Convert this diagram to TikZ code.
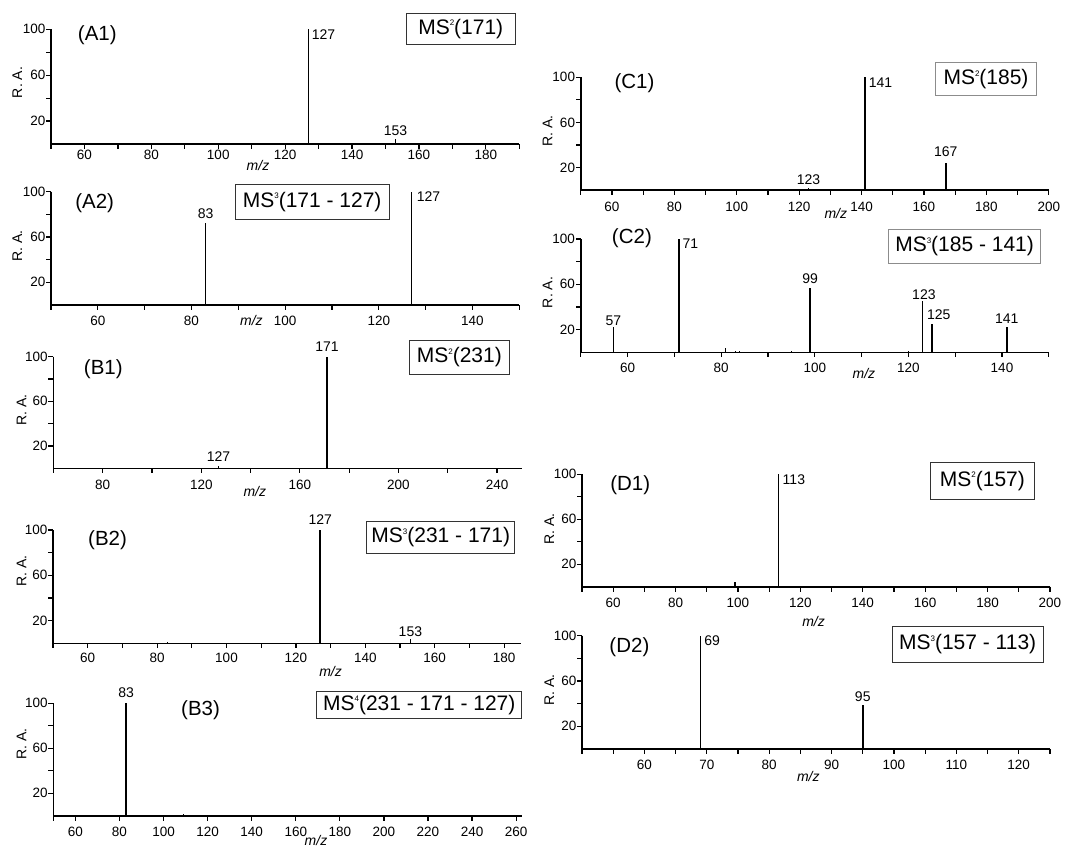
\documentclass[tikz,border=0pt]{standalone}
\usepackage{fontspec}
\setmainfont{Liberation Sans}
\newcommand\msn[2]{MS\raisebox{8.5pt}{\fontsize{8}{8}\selectfont #1}#2}
\newcommand\panelaxes[5]{%
  \draw[axisline] (#1,100) -- (#1,0) -- (#2,0);
  \foreach \t in {20,40,...,100} {\draw[tickline] (#1,\t) -- ++(-5pt,0pt);}
  \foreach \t in {20,60,100} {\node[ticklab,anchor=east,xshift=-5.5pt] at (#1,\t) {\t};}
  \foreach \t in {#3} {\draw[tickline] (\t,0) -- ++(0pt,-5pt);}
  \foreach \t in {#4} {\node[ticklab,yshift=-#5pt] at (\t,0) {\t};}
}
\newcommand\pk[2]{\draw[peak] (#1,0) -- (#1,#2);}
\newcommand\bump[2]{\draw[bumpline] (#1,0) -- (#1,#2);}
\begin{document}
\begin{tikzpicture}[x=1pt,y=-1pt,
  axisline/.style={line width=1.6pt, line join=miter},
  tickline/.style={line width=1.2pt},
  peak/.style={line width=1.8pt},
  bumpline/.style={line width=0.9pt},
  ticklab/.style={font=\fontsize{13.5}{13.5}\selectfont, inner sep=0pt},
  plab/.style={font=\fontsize{14}{14}\selectfont, inner sep=0pt},
  panlab/.style={font=\fontsize{20.5}{20.5}\selectfont, inner sep=0pt},
  mzlab/.style={font=\fontsize{14}{14}\selectfont\itshape, inner sep=0pt},
  ralab/.style={font=\fontsize{14}{14}\selectfont, inner sep=0pt, rotate=90},
  msbox/.style={draw=black!80, line width=1pt, inner sep=0pt, font=\fontsize{21}{21}\selectfont},
  msboxg/.style={msbox, draw=black!45}]
\fill[white] (0,0) rectangle (1067,848);
\useasboundingbox (0,0) rectangle (1067,848);

% ---------- A1 ----------
\begin{scope}[shift={(-116.25,144)},x={(3.345pt,0pt)},y={(0pt,1.147pt)}]
  \panelaxes{50}{190}{50,60,...,190}{60,80,...,180}{11}
  \pk{127}{100} \pk{153}{4}
  \bump{83}{1} \bump{89}{1} \bump{110}{1} \bump{171}{1}
  \node[plab,anchor=north west,xshift=3pt] (a1p127) at (127,100) {127};
  \node[plab,anchor=south,yshift=4pt] (a1p153) at (153,4) {153};
\end{scope}
\node[msbox,minimum width=109.5pt,minimum height=31pt] (a1box) at (460.75,28.8) {\msn{2}{(171)}};
\node[panlab] (a1lab) at (97.3,35) {(A1)};
\node[ralab] (a1ra) at (17.2,82.5) {R. A.};
\node[mzlab] (a1mz) at (258,165.7) {m/z};

% ---------- A2 ----------
\begin{scope}[shift={(-183.15,305)},x={(4.683pt,0pt)},y={(0pt,1.133pt)}]
  \panelaxes{50}{150}{50,60,...,150}{60,80,...,140}{15.7}
  \pk{83}{72.6} \pk{127}{100}
  \node[plab,anchor=south,yshift=4pt] (a2p83) at (83,72.6) {83};
  \node[plab,anchor=north west,xshift=5pt] (a2p127) at (127,100) {127};
\end{scope}
\node[msbox,minimum width=153.9pt,minimum height=35.3pt] (a2box) at (312.15,201.65) {\msn{3}{(171 - 127)}};
\node[panlab] (a2lab) at (94.7,203.3) {(A2)};
\node[ralab] (a2ra) at (17.2,245.8) {R. A.};
\node[mzlab] (a2mz) at (251.4,320.7) {m/z};

% ---------- B1 ----------
\begin{scope}[shift={(-94.48,468.3)},x={(2.4647pt,0pt)},y={(0pt,1.116pt)}]
  \panelaxes{60}{250}{60,80,...,240}{80,120,...,240}{16.7}
  \pk{171}{100} \pk{127}{2.5}
  \node[plab,anchor=south,yshift=5pt] (b1p171) at (171,100) {171};
  \node[plab,anchor=south,yshift=4pt] (b1p127) at (127,2.5) {127};
\end{scope}
\node[msbox,minimum width=100.6pt,minimum height=33.6pt] (b1box) at (459.3,357.5) {\msn{2}{(231)}};
\node[panlab] (b1lab) at (103.3,369.3) {(B1)};
\node[ralab] (b1ra) at (21.5,410) {R. A.};
\node[mzlab] (b1mz) at (254.8,491.7) {m/z};

% ---------- B2 ----------
\begin{scope}[shift={(-120.5,643.3)},x={(3.47pt,0pt)},y={(0pt,1.133pt)}]
  \panelaxes{50}{185}{50,60,...,180}{60,80,...,180}{14.7}
  \pk{127}{100} \pk{153}{3.5}
  \bump{83}{1}
  \node[plab,anchor=south,yshift=5pt] (b2p127) at (127,100) {127};
  \node[plab,anchor=south,yshift=3pt] (b2p153) at (153,3.5) {153};
\end{scope}
\node[msbox,minimum width=148.1pt,minimum height=31.6pt] (b2box) at (440.75,537.5) {\msn{3}{(231 - 171)}};
\node[panlab] (b2lab) at (107.6,540) {(B2)};
\node[ralab] (b2ra) at (21.5,570.8) {R. A.};
\node[mzlab] (b2mz) at (330.6,671.7) {m/z};

% ---------- B3 ----------
\begin{scope}[shift={(-56.8,815.7)},x={(2.2035pt,0pt)},y={(0pt,1.124pt)}]
  \panelaxes{50}{262.5}{50,60,80,...,260}{60,80,...,260}{16}
  \pk{83}{100}
  \bump{109}{1.5} \bump{127}{1}
  \node[plab,anchor=south,yshift=5pt] (b3p83) at (83,100) {83};
\end{scope}
\node[msbox,minimum width=204.9pt,minimum height=26.6pt] (b3box) at (419.25,705) {\msn{4}{(231 - 171 - 127)}};
\node[panlab] (b3lab) at (200.6,710) {(B3)};
\node[ralab] (b3ra) at (21.5,744.2) {R. A.};
\node[mzlab] (b3mz) at (316,840.5) {m/z};

% ---------- C1 ----------
\begin{scope}[shift={(424.67,190)},x={(3.1207pt,0pt)},y={(0pt,1.127pt)}]
  \panelaxes{50}{200}{50,60,...,200}{60,80,...,200}{16.7}
  \pk{141}{100} \pk{167}{24} \pk{123}{2}
  \bump{185}{1}
  \node[plab,anchor=north west,xshift=4pt] (c1p141) at (141,100) {141};
  \node[plab,anchor=south,yshift=5.7pt] (c1p167) at (167,24) {167};
  \node[plab,anchor=south,yshift=2.7pt] (c1p123) at (123,2) {123};
\end{scope}
\node[msboxg,minimum width=100.4pt,minimum height=33.3pt] (c1box) at (986,79.35) {\msn{2}{(185)}};
\node[panlab] (c1lab) at (634.5,83.3) {(C1)};
\node[ralab] (c1ra) at (547.5,130.8) {R. A.};
\node[mzlab] (c1mz) at (835.8,213.3) {m/z};

% ---------- C2 ----------
\begin{scope}[shift={(346.65,352.3)},x={(4.681pt,0pt)},y={(0pt,1.133pt)}]
  \panelaxes{50}{150}{50,60,...,150}{60,80,...,140}{16}
  \pk{57}{22} \pk{71}{100} \pk{99}{57} \pk{123}{45} \pk{125}{25} \pk{141}{22.6}
  \bump{81}{3.5} \bump{83}{1} \bump{84}{1} \bump{95}{1} \bump{120}{1}
  \node[plab,anchor=south,yshift=2pt] (c2p57) at (57,22) {57};
  \node[plab,anchor=north west,xshift=3.5pt] (c2p71) at (71,100) {71};
  \node[plab,anchor=south,yshift=4pt] (c2p99) at (99,57) {99};
  \node[plab,anchor=south,yshift=1pt,xshift=1.5pt] (c2p123) at (123,45) {123};
  \node[plab,anchor=south,yshift=4pt,xshift=7pt] (c2p125) at (125,25) {125};
  \node[plab,anchor=south,yshift=3.4pt] (c2p141) at (141,22.6) {141};
\end{scope}
\node[msboxg,minimum width=151.4pt,minimum height=34pt] (c2box) at (964.6,246.3) {\msn{3}{(185 - 141)}};
\node[panlab] (c2lab) at (631.9,238.3) {(C2)};
\node[ralab] (c2ra) at (547.5,292.5) {R. A.};
\node[mzlab] (c2mz) at (863.9,373.3) {m/z};

% ---------- D1 ----------
\begin{scope}[shift={(426.03,586.7)},x={(3.1193pt,0pt)},y={(0pt,1.124pt)}]
  \panelaxes{50}{200}{50,60,...,200}{60,80,...,200}{16.6}
  \pk{113}{100} \pk{99}{4}
  \bump{127}{1}
  \node[plab,anchor=north west,xshift=4pt] (d1p113) at (113,100) {113};
\end{scope}
\node[msbox,minimum width=103.4pt,minimum height=36.3pt] (d1box) at (982.4,480.85) {\msn{2}{(157)}};
\node[panlab] (d1lab) at (630.2,485) {(D1)};
\node[ralab] (d1ra) at (549.2,529.2) {R. A.};
\node[mzlab] (d1mz) at (813.6,621.7) {m/z};

% ---------- D2 ----------
\begin{scope}[shift={(270.07,749)},x={(6.2387pt,0pt)},y={(0pt,1.133pt)}]
  \panelaxes{50}{125}{50,55,...,125}{60,70,...,120}{16}
  \pk{69}{100} \pk{95}{39}
  \bump{71}{1} \bump{81}{1}
  \node[plab,anchor=north west,xshift=3.5pt] (d2p69) at (69,100) {69};
  \node[plab,anchor=south,yshift=2.5pt] (d2p95) at (95,39) {95};
\end{scope}
\node[msbox,minimum width=150.7pt,minimum height=36.7pt] (d2box) at (967.65,644.35) {\msn{3}{(157 - 113)}};
\node[panlab] (d2lab) at (629.4,646.7) {(D2)};
\node[ralab] (d2ra) at (549.2,690) {R. A.};
\node[mzlab] (d2mz) at (808.3,776.7) {m/z};
\end{tikzpicture}
\end{document}
